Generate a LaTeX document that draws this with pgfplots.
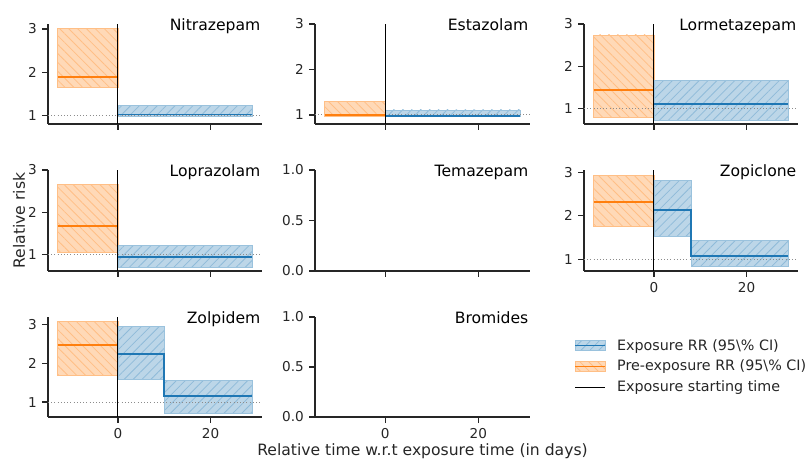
\documentclass[border=0pt]{standalone}
\usepackage{fontspec}
\setmainfont{DejaVu Sans}
\usepackage{pgfplots}
\pgfplotsset{compat=1.18}
\usetikzlibrary{patterns.meta}

\definecolor{c0}{RGB}{31,119,180}
\definecolor{c1}{RGB}{255,127,14}
\definecolor{ink}{gray}{0.15}

\newcommand\ticksize{\fontsize{13.6bp}{16bp}\selectfont}
\newcommand\labsize{\fontsize{15.6bp}{18bp}\selectfont}
\newcommand\legsize{\fontsize{14.3bp}{17bp}\selectfont}

\tikzset{
  expband/.style={draw=c0!45, line width=0.8bp, fill=c0!30,
    postaction={pattern={Lines[angle=45,distance=6.3bp,line width=0.8bp]}, pattern color=c0!50}},
  preband/.style={draw=c1!50, line width=0.8bp, fill=c1!30,
    postaction={pattern={Lines[angle=-45,distance=6.3bp,line width=0.8bp]}, pattern color=c1!50}},
  exprr/.style={c0, line width=1.75bp},
  prerr/.style={c1, line width=1.75bp},
  onset/.style={black, line width=1bp},
  refline/.style={black!45, line width=1bp, dash pattern=on 1bp off 2.2bp},
}

\pgfplotsset{
  panel/.style={
    scale only axis, width=214bp, height=100bp, anchor=south west,
    xmin=-15.1, xmax=31.1,
    axis x line*=bottom, axis y line*=left,
    axis line style={line width=1.25bp, ink},
    tick align=outside, major tick length=6bp,
    tick style={line width=1.25bp, ink},
    xtick={0,20}, xticklabels={,},
    ytick={1,2,3}, yticklabels={1,2,3},
    tick label style={font=\ticksize, text=ink},
    xticklabel style={inner sep=0pt, yshift=-5bp},
    yticklabel style={inner sep=0pt, xshift=-5bp},
    clip=false,
  },
  xlab/.style={xticklabels={0,20}},
  empty/.style={ymin=0, ymax=1, ytick={0,0.5,1}, yticklabels={0.0,0.5,1.0}},
}

\newcommand\ptitle[1]{\node[anchor=base east, inner sep=0pt, font=\labsize, text=black,
  xshift=-1.5bp, yshift=-6.8bp] at (rel axis cs:1,1) {#1};}

\begin{document}
\begin{tikzpicture}
\useasboundingbox (0,0) rectangle (808bp,459bp);

% row 1
\begin{axis}[panel, at={(48bp,335bp)}, ymin=0.81, ymax=3.115]
\addplot[preband] coordinates {(-13,1.655) (0,1.655) (0,3.02) (-13,3.02)} -- cycle;
\addplot[expband] coordinates {(0,0.986) (29,0.986) (29,1.24) (0,1.24)} -- cycle;
\addplot[refline] coordinates {(-15.1,1) (31.1,1)};
\addplot[prerr] coordinates {(-13,1.886) (0,1.886)};
\addplot[exprr] coordinates {(0,1.03) (29,1.03)};
\addplot[onset] coordinates {(0,0.81) (0,3.115)};
\ptitle{Nitrazepam}
\end{axis}

\begin{axis}[panel, at={(315bp,335bp)}, width=215bp, ymin=0.80, ymax=3.0]
\addplot[preband] coordinates {(-13,0.96) (0,0.96) (0,1.30) (-13,1.30)} -- cycle;
\addplot[expband] coordinates {(0,0.96) (29,0.96) (29,1.11) (0,1.11)} -- cycle;
\addplot[refline] coordinates {(-15.1,1) (31.1,1)};
\addplot[prerr] coordinates {(-13,0.99) (0,0.99)};
\addplot[exprr] coordinates {(0,0.98) (29,0.98)};
\addplot[onset] coordinates {(0,0.80) (0,3.0)};
\ptitle{Estazolam}
\end{axis}

\begin{axis}[panel, at={(584bp,335bp)}, ymin=0.63, ymax=3.0]
\addplot[preband] coordinates {(-13,0.78) (0,0.78) (0,2.74) (-13,2.74)} -- cycle;
\addplot[expband] coordinates {(0,0.72) (29,0.72) (29,1.67) (0,1.67)} -- cycle;
\addplot[refline] coordinates {(-15.1,1) (31.1,1)};
\addplot[prerr] coordinates {(-13,1.43) (0,1.43)};
\addplot[exprr] coordinates {(0,1.10) (29,1.10)};
\addplot[onset] coordinates {(0,0.63) (0,3.0)};
\ptitle{Lormetazepam}
\end{axis}

% row 2
\begin{axis}[panel, at={(48bp,188bp)}, height=101bp, ymin=0.61, ymax=3.0,
  ylabel={Relative risk},
  ylabel style={at={(axis description cs:-0.1075,0.5)}, anchor=base, inner sep=0pt, font=\labsize, text=ink}]
\addplot[preband] coordinates {(-13,1.05) (0,1.05) (0,2.65) (-13,2.65)} -- cycle;
\addplot[expband] coordinates {(0,0.70) (29,0.70) (29,1.22) (0,1.22)} -- cycle;
\addplot[refline] coordinates {(-15.1,1) (31.1,1)};
\addplot[prerr] coordinates {(-13,1.67) (0,1.67)};
\addplot[exprr] coordinates {(0,0.95) (29,0.95)};
\addplot[onset] coordinates {(0,0.61) (0,3.0)};
\ptitle{Loprazolam}
\end{axis}

\begin{axis}[panel, empty, at={(315bp,188bp)}, width=215bp, height=101bp]
\ptitle{Temazepam}
\end{axis}

\begin{axis}[panel, xlab, at={(584bp,188bp)}, height=101bp, ymin=0.73, ymax=3.05]
\addplot[preband] coordinates {(-13,1.76) (0,1.76) (0,2.93) (-13,2.93)} -- cycle;
\addplot[expband] coordinates {(0,1.52) (8,1.52) (8,0.83) (29,0.83) (29,1.44) (8,1.44) (8,2.82) (0,2.82)} -- cycle;
\addplot[refline] coordinates {(-15.1,1) (31.1,1)};
\addplot[prerr] coordinates {(-13,2.32) (0,2.32)};
\addplot[exprr] coordinates {(0,2.13) (8,2.13) (8,1.07) (29,1.07)};
\addplot[onset] coordinates {(0,0.73) (0,3.05)};
\ptitle{Zopiclone}
\end{axis}

% row 3
\begin{axis}[panel, xlab, at={(48bp,42bp)}, ymin=0.615, ymax=3.195,
  legend style={at={(2.46,0.80)}, anchor=north west, draw=none, fill=none,
    font=\legsize, text=ink, row sep=4.6bp, column sep=9bp, inner sep=0pt},
  legend cell align=left]
\addlegendimage{legend image code/.code={\draw[expband] (0bp,-5bp) rectangle (30bp,5bp); \draw[c0, line width=1.5bp] (0bp,0bp) -- (30bp,0bp);}}
\addlegendentry{Exposure RR (95\textbackslash\% CI)}
\addlegendimage{legend image code/.code={\draw[preband] (0bp,-5bp) rectangle (30bp,5bp); \draw[c1, line width=1.5bp] (0bp,0bp) -- (30bp,0bp);}}
\addlegendentry{Pre-exposure RR (95\textbackslash\% CI)}
\addlegendimage{legend image code/.code={\draw[onset] (0bp,0bp) -- (30bp,0bp);}}
\addlegendentry{Exposure starting time}
\addplot[preband] coordinates {(-13,1.68) (0,1.68) (0,3.08) (-13,3.08)} -- cycle;
\addplot[expband] coordinates {(0,1.58) (10,1.58) (10,0.71) (29,0.71) (29,1.55) (10,1.55) (10,2.94) (0,2.94)} -- cycle;
\addplot[refline] coordinates {(-15.1,1) (31.1,1)};
\addplot[prerr] coordinates {(-13,2.48) (0,2.48)};
\addplot[exprr] coordinates {(0,2.24) (10,2.24) (10,1.16) (29,1.16)};
\addplot[onset] coordinates {(0,0.615) (0,3.195)};
\ptitle{Zolpidem}
\end{axis}

\begin{axis}[panel, empty, xlab, at={(315bp,42bp)}, width=215bp,
  xlabel={Relative time w.r.t exposure time (in days)},
  xlabel style={at={(axis description cs:0.5,-0.385)}, anchor=base, inner sep=0pt, font=\labsize, text=ink}]
\ptitle{Bromides}
\end{axis}

\end{tikzpicture}
\end{document}
